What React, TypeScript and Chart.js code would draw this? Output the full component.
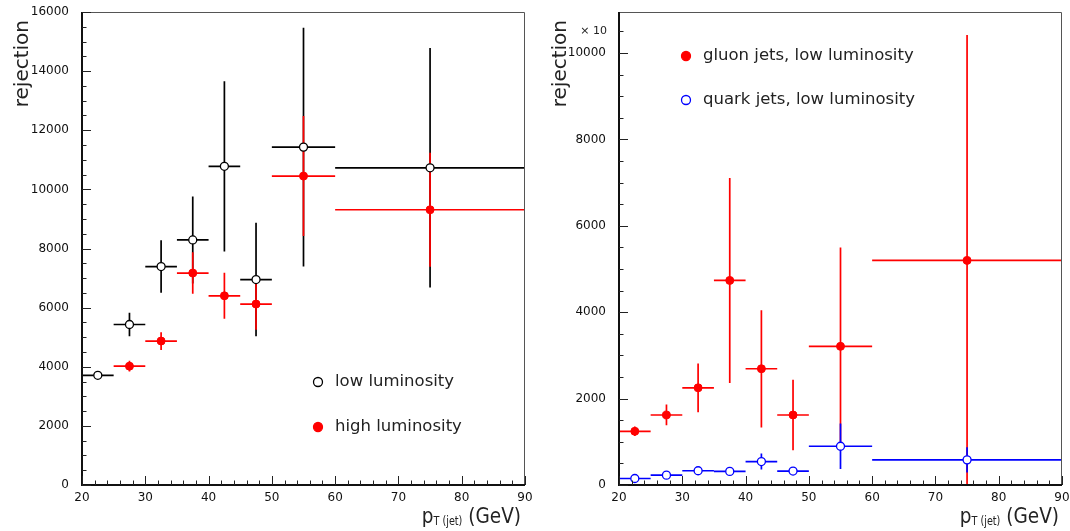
import React, { useEffect, useRef } from 'react';
import { Chart, registerables } from 'chart.js';

Chart.register(...registerables);

// ---------- data ----------
const binLow = [20, 25, 30, 35, 40, 45, 50, 60];
const binHigh = [25, 30, 35, 40, 45, 50, 60, 90];
const binCenter = [22.5, 27.5, 32.5, 37.5, 42.5, 47.5, 55, 75];

// left panel
const lowLumiValues = [3710, 5430, 7390, 8290, 10780, 6950, 11430, 10730];
const lowLumiErrors = [60, 400, 890, 1470, 2880, 1920, 4040, 4050];
const highLumiValues = [null, 4020, 4870, 7170, 6400, 6120, 10450, 9310];
const highLumiErrors = [null, 180, 300, 700, 780, 870, 2030, 1930];

// right panel (axis labelled x 10)
const gluonValues = [1243, 1621, 2250, 4736, 2691, 1621, 3210, 5200];
const gluonErrors = [110, 240, 565, 2372, 1357, 814, 2290, 5220];
const quarkValues = [150, 228, 330, 315, 543, 323, 897, 582];
const quarkErrors = [40, 40, 40, 40, 185, 90, 525, 290];

const xTicks = [20, 30, 40, 50, 60, 70, 80, 90];
const leftYTicks = [0, 2000, 4000, 6000, 8000, 10000, 12000, 14000, 16000];
const rightYTicks = [0, 2000, 4000, 6000, 8000, 10000];

const leftLegend = ['low luminosity', 'high luminosity'];
const rightLegend = ['gluon jets, low luminosity', 'quark jets, low luminosity'];

const FONT = '"DejaVu Sans", sans-serif';

function makePoints(values: (number | null)[], errors: (number | null)[]) {
  const pts: any[] = [];
  values.forEach((v, i) => {
    if (v == null) return;
    pts.push({ x: binCenter[i], y: v, xLow: binLow[i], xHigh: binHigh[i], yErr: errors[i] || 0 });
  });
  return pts;
}

type PanelOpts = {
  yMinorStep: number;
  xMinorStep: number;
  legendPos: { x: number; y: number }[];
  legendTextX: number;
  titleX: number;
  xTitleRight: number;
  exponent?: { x: number; y: number; text: string };
};

function panelPlugin(o: PanelOpts) {
  return {
    id: 'panel',
    beforeDatasetsDraw(chart: any) {
      const { ctx, chartArea, scales } = chart;
      const x = scales.x, y = scales.y;
      ctx.save();
      ctx.beginPath();
      ctx.rect(chartArea.left, chartArea.top, chartArea.right - chartArea.left, chartArea.bottom - chartArea.top);
      ctx.clip();
      chart.data.datasets.forEach((ds: any) => {
        ctx.strokeStyle = ds.errColor;
        ctx.lineWidth = 1.7;
        ds.data.forEach((p: any) => {
          const yc = y.getPixelForValue(p.y);
          const xc = x.getPixelForValue(p.x);
          ctx.beginPath();
          ctx.moveTo(x.getPixelForValue(p.xLow), yc);
          ctx.lineTo(x.getPixelForValue(p.xHigh), yc);
          ctx.moveTo(xc, y.getPixelForValue(p.y - p.yErr));
          ctx.lineTo(xc, y.getPixelForValue(p.y + p.yErr));
          ctx.stroke();
        });
      });
      ctx.restore();
    },
    afterDraw(chart: any) {
      const { ctx, chartArea, scales } = chart;
      const x = scales.x, y = scales.y;
      const L = chartArea.left, R = chartArea.right, T = chartArea.top, B = chartArea.bottom;
      ctx.save();
      // frame
      ctx.strokeStyle = '#555';
      ctx.lineWidth = 1;
      ctx.beginPath();
      ctx.moveTo(L, T + 0.5);
      ctx.lineTo(R - 0.5, T + 0.5);
      ctx.lineTo(R - 0.5, B);
      ctx.stroke();
      ctx.strokeStyle = '#111';
      ctx.lineWidth = 2;
      ctx.beginPath();
      ctx.moveTo(L, T);
      ctx.lineTo(L, B);
      ctx.lineTo(R, B);
      ctx.stroke();
      // tick marks
      ctx.lineWidth = 1;
      ctx.strokeStyle = '#222';
      ctx.beginPath();
      for (let v = y.min; v <= y.max + 1e-6; v += o.yMinorStep) {
        const py = Math.round(y.getPixelForValue(v)) + 0.5;
        const major = y.ticks.some((t: any) => Math.abs(t.value - v) < 1e-6);
        ctx.moveTo(L, py);
        ctx.lineTo(L + (major ? 9 : 4.5), py);
      }
      for (let v = x.min; v <= x.max + 1e-6; v += o.xMinorStep) {
        const px = Math.round(x.getPixelForValue(v)) + 0.5;
        const major = x.ticks.some((t: any) => Math.abs(t.value - v) < 1e-6);
        ctx.moveTo(px, B);
        ctx.lineTo(px, B - (major ? 9 : 4.5));
      }
      ctx.stroke();
      // legend
      chart.data.datasets.forEach((ds: any, i: number) => {
        const p = o.legendPos[i];
        ctx.beginPath();
        ctx.arc(p.x, p.y, 4.5, 0, Math.PI * 2);
        ctx.fillStyle = ds.backgroundColor;
        ctx.fill();
        ctx.lineWidth = 1.3;
        ctx.strokeStyle = ds.borderColor;
        ctx.stroke();
        ctx.fillStyle = '#222';
        ctx.font = `16.5px ${FONT}`;
        ctx.textBaseline = 'middle';
        ctx.textAlign = 'left';
        ctx.fillText(ds.label, o.legendTextX, p.y);
      });
      // y title
      ctx.save();
      ctx.translate(o.titleX, 20);
      ctx.rotate(-Math.PI / 2);
      ctx.font = `20px ${FONT}`;
      ctx.fillStyle = '#222';
      ctx.textAlign = 'right';
      ctx.textBaseline = 'middle';
      ctx.fillText('rejection', 0, 0);
      ctx.restore();
      // x title (horizontally condensed)
      const big = `22px ${FONT}`;
      const small = `11.5px ${FONT}`;
      const parts = [
        { t: 'p', f: big, dy: 0 },
        { t: 'T (jet)', f: small, dy: 2 },
        { t: ' (GeV)', f: big, dy: 0 },
      ];
      const sx = 0.84;
      let total = 0;
      const widths = parts.map((pp) => {
        ctx.font = pp.f;
        const w = ctx.measureText(pp.t).width;
        total += w;
        return w;
      });
      ctx.save();
      ctx.translate(o.xTitleRight - total * sx, 0);
      ctx.scale(sx, 1);
      let cx = 0;
      ctx.textAlign = 'left';
      ctx.textBaseline = 'alphabetic';
      ctx.fillStyle = '#222';
      parts.forEach((pp, i) => {
        ctx.font = pp.f;
        ctx.fillText(pp.t, cx, 523 + pp.dy);
        cx += widths[i];
      });
      ctx.restore();
      if (o.exponent) {
        ctx.font = `11px ${FONT}`;
        ctx.fillStyle = '#222';
        ctx.textAlign = 'right';
        ctx.textBaseline = 'middle';
        ctx.fillText(o.exponent.text, o.exponent.x, o.exponent.y);
      }
      ctx.restore();
    },
  };
}

function makeChart(
  canvas: HTMLCanvasElement,
  datasets: any[],
  yMax: number,
  yTicks: number[],
  padding: { top: number; right: number },
  yWidth: number,
  o: PanelOpts
) {
  return new Chart(canvas, {
    type: 'scatter',
    data: { datasets },
    options: {
      responsive: false,
      animation: false,
      devicePixelRatio: 1,
      layout: { padding: { left: 0, top: padding.top, right: padding.right, bottom: 0 } },
      plugins: { legend: { display: false }, tooltip: { enabled: false } },
      scales: {
        x: {
          type: 'linear',
          min: 20,
          max: 90,
          border: { display: false },
          grid: { display: false, drawTicks: false },
          afterBuildTicks: (s: any) => {
            s.ticks = xTicks.map((v) => ({ value: v }));
          },
          afterFit: (s: any) => {
            s.height = 46;
            s.paddingLeft = 0;
            s.paddingRight = 0;
          },
          ticks: {
            autoSkip: false,
            maxRotation: 0,
            padding: 6,
            color: '#111',
            font: { family: FONT, size: 12 },
            callback: (v: any) => String(v),
          },
        },
        y: {
          type: 'linear',
          min: 0,
          max: yMax,
          border: { display: false },
          grid: { display: false, drawTicks: false },
          afterBuildTicks: (s: any) => {
            s.ticks = yTicks.map((v) => ({ value: v }));
          },
          afterFit: (s: any) => {
            s.width = yWidth;
            s.paddingTop = 0;
            s.paddingBottom = 0;
          },
          ticks: {
            autoSkip: false,
            padding: 13,
            color: '#111',
            font: { family: FONT, size: 12 },
            callback: (v: any) => String(v),
          },
        },
      },
    } as any,
    plugins: [panelPlugin(o) as any],
  });
}

export default function App() {
  const leftRef = useRef<HTMLCanvasElement>(null);
  const rightRef = useRef<HTMLCanvasElement>(null);

  useEffect(() => {
    const left = makeChart(
      leftRef.current!,
      [
        {
          label: leftLegend[0],
          data: makePoints(lowLumiValues, lowLumiErrors),
          pointRadius: 4,
          pointBorderWidth: 1.3,
          backgroundColor: '#ffffff',
          borderColor: '#000000',
          errColor: '#000000',
        },
        {
          label: leftLegend[1],
          data: makePoints(highLumiValues, highLumiErrors),
          pointRadius: 4,
          pointBorderWidth: 1,
          backgroundColor: '#ff0000',
          borderColor: '#ff0000',
          errColor: '#ff0000',
        },
      ],
      16000,
      leftYTicks,
      { top: 12, right: 15 },
      82,
      {
        yMinorStep: 500,
        xMinorStep: 2,
        legendPos: [
          { x: 318, y: 382 },
          { x: 318, y: 427 },
        ],
        legendTextX: 335,
        titleX: 23,
        xTitleRight: 521,
      }
    );
    const right = makeChart(
      rightRef.current!,
      [
        {
          label: rightLegend[0],
          data: makePoints(gluonValues, gluonErrors),
          pointRadius: 4,
          pointBorderWidth: 1,
          backgroundColor: '#ff0000',
          borderColor: '#ff0000',
          errColor: '#ff0000',
        },
        {
          label: rightLegend[1],
          data: makePoints(quarkValues, quarkErrors),
          pointRadius: 4,
          pointBorderWidth: 1.3,
          backgroundColor: '#ffffff',
          borderColor: '#0000ff',
          errColor: '#0000ff',
        },
      ],
      10950,
      rightYTicks,
      { top: 12, right: 8 },
      79,
      {
        yMinorStep: 500,
        xMinorStep: 2,
        legendPos: [
          { x: 146, y: 56 },
          { x: 146, y: 100 },
        ],
        legendTextX: 163,
        titleX: 21,
        xTitleRight: 519,
        exponent: { x: 67, y: 31, text: '× 10' },
      }
    );
    return () => {
      left.destroy();
      right.destroy();
    };
  }, []);

  return (
    <div style={{ position: 'absolute', left: 0, top: 0, width: 1070, height: 531, background: '#fff' }}>
      <canvas ref={leftRef} width={540} height={531} style={{ position: 'absolute', left: 0, top: 0 }} />
      <canvas ref={rightRef} width={530} height={531} style={{ position: 'absolute', left: 540, top: 0 }} />
    </div>
  );
}
